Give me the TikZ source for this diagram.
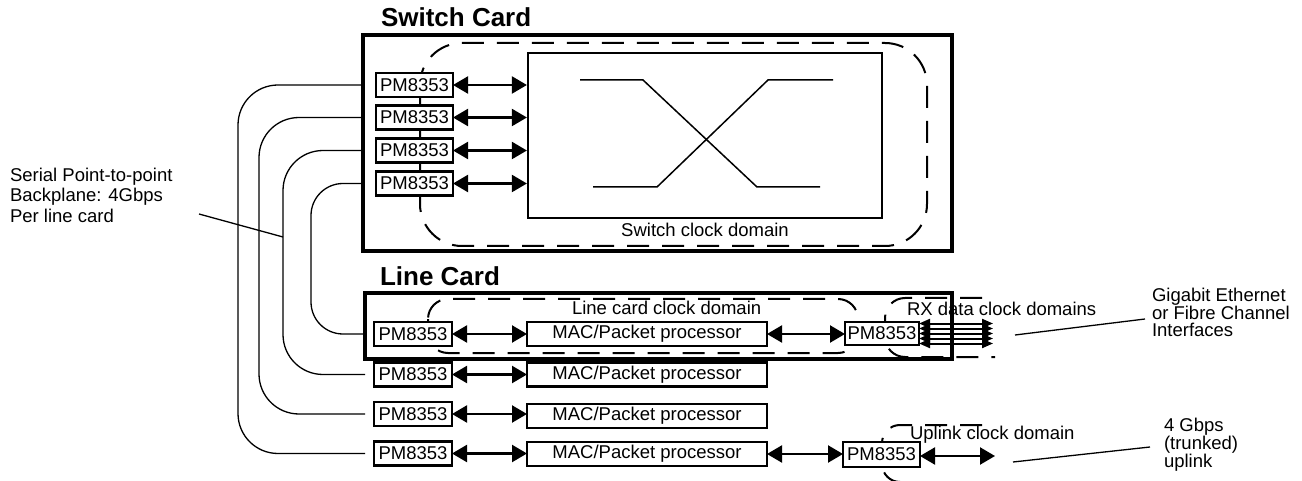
\documentclass[tikz,border=0pt]{standalone}
\usepackage{fontspec}
\setmainfont{Liberation Sans}
\usetikzlibrary{arrows.meta}
\newcommand\lblfont{\fontsize{18.5}{20.5}\selectfont}
\newcommand\lbltight{\fontsize{18.5}{17}\selectfont}
\newcommand\ttlfont{\fontsize{26}{30}\selectfont\bfseries}
\begin{document}
\begin{tikzpicture}[x=1pt,y=-1pt,
  card/.style={draw, line width=3.5pt, inner sep=0pt, outer sep=0pt},
  pmbox/.style={draw, line width=2.2pt, fill=white, inner sep=0pt, outer sep=0pt, font=\lblfont, minimum width=77pt, minimum height=24pt},
  macbox/.style={draw, line width=2.2pt, fill=white, inner sep=0pt, outer sep=0pt, font=\lblfont, minimum width=240pt, minimum height=24pt},
  dom/.style={draw, line width=2pt, dash pattern=on 22pt off 13pt},
  biarrow/.style={line width=2.2pt, {Triangle[length=15pt,width=17pt]}-{Triangle[length=15pt,width=17pt]}},
  rxarrow/.style={line width=2pt, {Triangle[length=11pt,width=9pt]}-{Triangle[length=11pt,width=9pt]}},
  bp/.style={line width=1.3pt, rounded corners=40pt},
  leader/.style={line width=1.3pt},
  txt/.style={inner sep=0pt, outer sep=0pt, font=\lblfont},
]
\useasboundingbox (0,0) rectangle (1302,481);

% titles
\node[txt, anchor=base west, font=\ttlfont] (swtitle) at (381,27) {Switch Card};
\node[txt, anchor=base west, font=\ttlfont] (lctitle) at (380,286) {Line Card};

% cards
\node[card, minimum width=589pt, minimum height=216pt] (swcard) at (657.5,143) {};
\node[card, minimum width=587pt, minimum height=66pt] (lccard) at (658.5,326) {};

% clock domains
\draw[dom, rounded corners=42pt] (420,43) rectangle (927,246);
\draw[dom, rounded corners=20pt] (428,299) rectangle (858,353);
\draw[dom, rounded corners=20pt] (982,298) -- (885,298) -- (885,357) -- (995,357);
\draw[dom, rounded corners=18pt] (982,425) -- (882,425) -- (882,482) -- (995,482);

% crossbar
\node[draw, line width=2.2pt, inner sep=0pt, minimum width=354pt, minimum height=165pt] (xbar) at (705,135.5) {};
\draw[line width=1.5pt] (580,80) -- (643,80) -- (757,187) -- (820,187);
\draw[line width=1.5pt] (593,187) -- (657,187) -- (768,80) -- (833,80);
\node[txt, anchor=base] (swdom) at (705,237) {Switch clock domain};

% switch PM8353
\node[pmbox] (sw1) at (414.5,85) {PM8353};
\node[pmbox] (sw2) at (414.5,117.5) {PM8353};
\node[pmbox] (sw3) at (414.5,150.5) {PM8353};
\node[pmbox] (sw4) at (414.5,183.5) {PM8353};
\draw[line width=1.5pt] ([xshift=5.5pt]sw1.south) -- ([xshift=5.5pt]sw2.north);
\draw[line width=1.5pt] ([xshift=5.5pt]sw2.south) -- ([xshift=5.5pt]sw3.north);
\draw[line width=1.5pt] ([xshift=5.5pt]sw3.south) -- ([xshift=5.5pt]sw4.north);
\foreach \i in {1,...,4} {
  \draw[biarrow] (sw\i.east) -- (sw\i.east -| xbar.west);
}

% line card rows
\node[pmbox, minimum width=78pt] (lc1) at (413,334) {PM8353};
\node[pmbox, minimum width=78pt] (lc2) at (413,374.5) {PM8353};
\node[pmbox, minimum width=78pt] (lc3) at (413,414) {PM8353};
\node[pmbox, minimum width=78pt] (lc4) at (413,453.5) {PM8353};
\node[macbox] (mac1) at (647,334) {MAC/Packet processor};
\node[macbox] (mac2) at (647,374.5) {MAC/Packet processor};
\node[macbox] (mac3) at (647,416) {MAC/Packet processor};
\node[macbox] (mac4) at (647,454) {MAC/Packet processor};
\draw[biarrow] (lc1.east) -- (lc1.east -| mac1.west);
\draw[biarrow] (lc2.east) -- (lc2.east -| mac2.west);
\draw[biarrow] (lc3.east) -- (lc3.east -| mac3.west);
\draw[biarrow] (lc4.east) -- (lc4.east -| mac4.west);

\node[pmbox, minimum width=74pt, minimum height=23pt] (rxpm) at (882,333.5) {PM8353};
\node[pmbox, minimum width=77pt, minimum height=25pt] (uppm) at (881.5,454.5) {PM8353};
\draw[biarrow] (mac1.east) -- (mac1.east -| rxpm.west);
\draw[biarrow] (mac4.east) -- (mac4.east -| uppm.west);

\node[txt, anchor=base west] (lcdom) at (572,314) {Line card clock domain};
\node[txt, anchor=base west] (rxdom) at (907,316) {RX data clock domains};
\node[txt, anchor=base west] (updom) at (910,439) {Uplink clock domain};

% RX data arrows
\coordinate (rxend) at (993,333.5);
\foreach \s in {-10,-5,0,5,10} {
  \draw[rxarrow] ([yshift=\s pt]rxpm.east) -- ([yshift=\s pt]rxend);
}
% uplink arrow
\coordinate (upend) at (995,456);
\draw[biarrow] (uppm.east |- upend) -- (upend);

% backplane
\draw[bp] (sw1.west -| swcard.west) -- ++(-125,0) |- (lc4.west -| lccard.west);
\draw[bp] (sw2.west -| swcard.west) -- ++(-104,0) |- (lc3.west -| lccard.west);
\draw[bp] (sw3.west -| swcard.west) -- ++(-80,0) |- (lc2.west -| lccard.west);
\draw[bp, rounded corners=32pt] (sw4.west -| swcard.west) -- ++(-52,0) |- (lc1.west -| lccard.west);

% annotations
\node[txt, anchor=north west, align=left] (bptxt) at (10,168) {Serial Point-to-point\\Backplane: 4Gbps\\Per line card};
\coordinate (bpa) at (199,214);
\coordinate (bpb) at (283,237);
\draw[leader] (bpa) -- (bpb);

\node[txt, anchor=north west, align=left, font=\lbltight] (getxt) at (1152,288) {Gigabit Ethernet\\or Fibre Channel\\Interfaces};
\coordinate (gea) at (1015,335);
\coordinate (geb) at (1145,319);
\draw[leader] (gea) -- (geb);

\node[txt, anchor=north west, align=left, font=\lbltight] (uptxt) at (1164,418) {4 Gbps\\(trunked)\\uplink};
\coordinate (upa) at (1013,462);
\coordinate (upb) at (1150,447);
\draw[leader] (upa) -- (upb);
\end{tikzpicture}
\end{document}
